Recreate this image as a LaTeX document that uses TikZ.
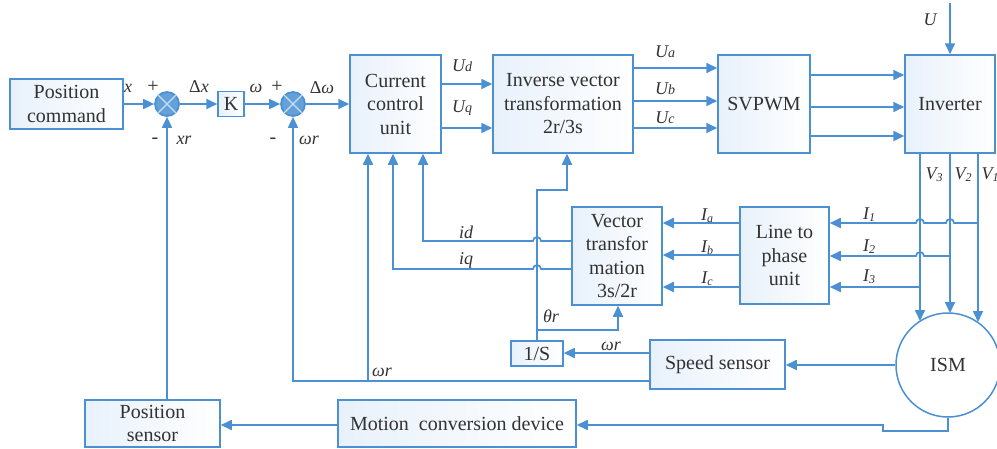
\documentclass[tikz,border=0pt]{standalone}
\usepackage{fontspec}
\setmainfont{Liberation Serif}
\usetikzlibrary{arrows.meta,calc}
\definecolor{ln}{RGB}{74,144,210}
\definecolor{tx}{RGB}{50,50,50}
\definecolor{bf}{RGB}{232,241,251}
\newcommand\smx[1]{{\fontsize{14}{14}\selectfont #1}}
\newcommand\sbx[1]{\raisebox{-2pt}{\fontsize{12}{12}\selectfont #1}}
\begin{document}
\begin{tikzpicture}[x=1pt,y=-1pt,
  every path/.style={line width=1.7pt},
  blk/.style={draw=ln,line width=1.5pt,left color=bf,right color=white,text=tx,
    font=\fontsize{20}{23.5}\selectfont,align=center,inner sep=0pt},
  sj/.style={circle,draw=ln,fill=ln!85,minimum size=24pt,inner sep=0pt},
  lab/.style={text=tx,font=\fontsize{18}{18}\selectfont\itshape,inner sep=0pt},
  sgn/.style={text=tx,font=\fontsize{20}{20}\selectfont,inner sep=0pt},
  arr/.style={draw=ln,-{Triangle[length=11pt,width=10pt]}},
  con/.style={draw=ln}]
\useasboundingbox (0,0) rectangle (997,448);

% blocks
\node[blk,minimum width=113pt,minimum height=50pt] (pc) at (66.5,104) {Position\\command};
\node[sj] (s1) at (167,104) {};
\node[blk,minimum width=26pt,minimum height=25pt] (K) at (231,104) {K};
\node[sj] (s2) at (293,104) {};
\node[blk,minimum width=91pt,minimum height=98pt] (ccu) at (395.5,104) {Current\\control\\unit};
\node[blk,minimum width=140pt,minimum height=98pt] (ivt) at (563,104) {Inverse vector\\transformation\\2r/3s};
\node[blk,minimum width=92pt,minimum height=98pt] (svp) at (764,104) {SVPWM};
\node[blk,minimum width=90pt,minimum height=98pt] (inv) at (950,104) {Inverter};
\node[blk,minimum width=89pt,minimum height=97pt] (ltp) at (784.5,255.5) {Line to\\phase\\unit};
\node[blk,minimum width=90pt,minimum height=98pt] (vt) at (617,256) {Vector\\transfor\\mation\\3s/2r};
\node[blk,minimum width=52pt,minimum height=25pt] (ois) at (537,353.5) {1/S};
\node[blk,minimum width=135pt,minimum height=49pt] (ss) at (717.5,364.5) {Speed sensor};
\node[blk,circle,left color=white,right color=white,minimum size=104pt] (ism) at (948,365) {ISM};
\node[blk,minimum width=238pt,minimum height=47pt] (mcd) at (457,423.5) {Motion\ \ conversion device};
\node[blk,minimum width=135pt,minimum height=47pt] (ps) at (152.5,423.5) {Position\\sensor};

% crosses in summing junctions
\foreach \s in {s1,s2}{
  \draw[white!70!ln,line width=1.2pt] (\s.45) -- (\s.225) (\s.135) -- (\s.315);
}

% forward path
\draw[arr] (pc.east) -- (s1.west);
\draw[arr] (s1.east) -- (K.west);
\draw[arr] (K.east) -- (s2.west);
\draw[arr] (s2.east) -- (ccu.west);
\draw[arr] (ccu.east |- 0,84) -- (ivt.west |- 0,84);
\draw[arr] (ccu.east |- 0,128) -- (ivt.west |- 0,128);
\draw[arr] (ivt.east |- 0,68) -- (svp.west |- 0,68);
\draw[arr] (ivt.east |- 0,101) -- (svp.west |- 0,101);
\draw[arr] (ivt.east |- 0,128) -- (svp.west |- 0,128);
\draw[arr] (svp.east |- 0,75) -- (inv.west |- 0,75);
\draw[arr] (svp.east |- 0,107) -- (inv.west |- 0,107);
\draw[arr] (svp.east |- 0,136) -- (inv.west |- 0,136);
\coordinate (utop) at (950,3);
\draw[arr] (utop) -- (inv.north);

% inverter to ISM
\coordinate (v3e) at (920,321);
\coordinate (v2e) at (950,313);
\coordinate (v1e) at (978,322);
\draw[arr] (inv.south -| v3e) -- (v3e);
\draw[arr] (inv.south -| v2e) -- (v2e);
\draw[arr] (inv.south -| v1e) -- (v1e);

% current measurement
\coordinate (j1) at (978,223);
\coordinate (j2) at (950,256);
\coordinate (j3) at (920,287);
\draw[arr] (j1) -- (954,223) arc[start angle=0,end angle=180,radius=4pt] -- (924,223)
  arc[start angle=0,end angle=180,radius=4pt] -- (ltp.east |- j1);
\draw[arr] (j2) -- (924,256) arc[start angle=0,end angle=180,radius=4pt] -- (ltp.east |- j2);
\draw[arr] (j3) -- (ltp.east |- j3);
\draw[arr] (ltp.west |- 0,223) -- (vt.east |- 0,223);
\draw[arr] (ltp.west |- 0,255) -- (vt.east |- 0,255);
\draw[arr] (ltp.west |- 0,287) -- (vt.east |- 0,287);

% id, iq feedback
\draw[arr] (vt.west |- 0,241) -- (541,241) arc[start angle=0,end angle=180,radius=4pt]
  -- (423,241) -- (ccu.south -| 423,0);
\draw[arr] (vt.west |- 0,269) -- (541,269) arc[start angle=0,end angle=180,radius=4pt]
  -- (393,269) -- (ccu.south -| 393,0);

% theta
\draw[arr] (ois.north) -- (537,190) -- (567,190) -- (ivt.south -| 567,0);
\coordinate (th) at (537,330);
\draw[arr] (th) -- (618,330) -- (vt.south -| 618,0);

% speed feedback
\draw[arr] (ss.west |- 0,353) -- (ois.east |- 0,353);
\coordinate (wj) at (368,381);
\draw[arr] (ss.west |- wj) -- (293,381) -- (s2.south);
\draw[arr] (wj) -- (ccu.south -| wj);
\draw[arr] (ism.west) -- (ss.east |- ism.west);

% position feedback
\draw[arr] (ism.south) -- (ism.south |- 0,431) -- (883,431) -- (883,425) -- (mcd.east |- 0,425);
\draw[arr] (mcd.west |- 0,425) -- (ps.east |- 0,425);
\draw[arr] (ps.north -| s1) -- (s1.south);

% labels
\node[lab] (lx) at (128,88) {x};
\node[sgn] (lp1) at (153,87) {+};
\node[lab] (ldx) at (199,87) {\upshape Δ\itshape x};
\node[lab] (lw) at (256,88) {ω};
\node[sgn] (lp2) at (277,87) {+};
\node[lab] (ldw) at (322,88) {\upshape Δ\itshape ω};
\node[sgn] (lm1) at (155,141) {-};
\node[lab] (lxr) at (184,140) {xr};
\node[sgn] (lm2) at (273,141) {-};
\node[lab] (lwr1) at (309,140) {ωr};
\node[lab] (lud) at (462,66) {U\smx{d}};
\node[lab] (luq) at (462,108) {U\smx{q}};
\node[lab] (lua) at (665,52) {U\smx{a}};
\node[lab] (lub) at (665,89) {U\smx{b}};
\node[lab] (luc) at (665,118) {U\smx{c}};
\node[lab] (lu) at (930,20) {U};
\node[lab] (lv3) at (934,175) {V\sbx{3}};
\node[lab] (lv2) at (963,175) {V\sbx{2}};
\node[lab] (lv1) at (990,175) {V\sbx{1}};
\node[lab] (li1) at (869,215) {I\sbx{1}};
\node[lab] (li2) at (869,247) {I\sbx{2}};
\node[lab] (li3) at (869,277) {I\sbx{3}};
\node[lab] (lia) at (707,216) {I\sbx{a}};
\node[lab] (lib) at (707,248) {I\sbx{b}};
\node[lab] (lic) at (707,279) {I\sbx{c}};
\node[lab] (lid) at (466,232) {id};
\node[lab] (liq) at (466,260) {iq};
\node[lab] (lth) at (551,316) {θr};
\node[lab] (lwr2) at (611,346) {ωr};
\node[lab] (lwr3) at (382,372) {ωr};
\end{tikzpicture}
\end{document}
